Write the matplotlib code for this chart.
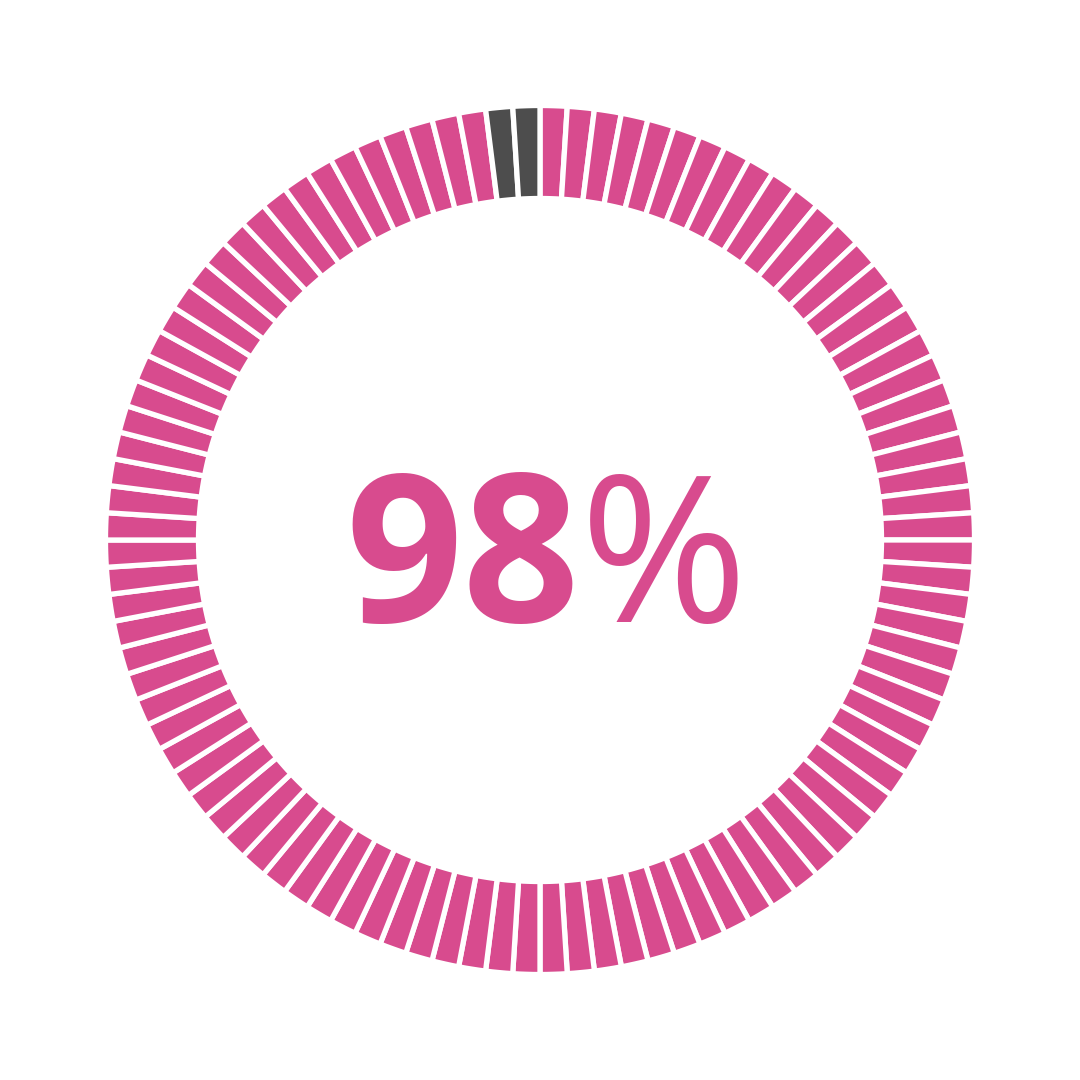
import matplotlib.pyplot as plt

# data
percent = 98
n_segments = 100
pink = '#D84B8E'
grey = '#4D4D4D'

values = [1] * n_segments
colors = [pink] * percent + [grey] * (n_segments - percent)

fig = plt.figure(figsize=(10.8, 10.8), dpi=100)
ax = fig.add_axes([0, 0, 1, 1])

# ring: radii in pixels, white edges make the gaps
outer = 434.5
inner = 341.5
ax.pie(values, colors=colors, startangle=90, counterclock=False,
       radius=outer, wedgeprops=dict(width=outer - inner, edgecolor='white', linewidth=3.8))

ax.set_xlim(-540, 540)
ax.set_ylim(-540, 540)
ax.set_aspect('equal')
ax.axis('off')

# center label
ax.text(40, -82, str(percent), ha='right', va='baseline', fontsize=148,
        fontweight='bold', family='Open Sans', color=pink)
ax.text(40, -82, '%', ha='left', va='baseline', fontsize=146,
        family='Open Sans', color=pink)

fig.savefig('out.png', dpi=100, facecolor='white')
